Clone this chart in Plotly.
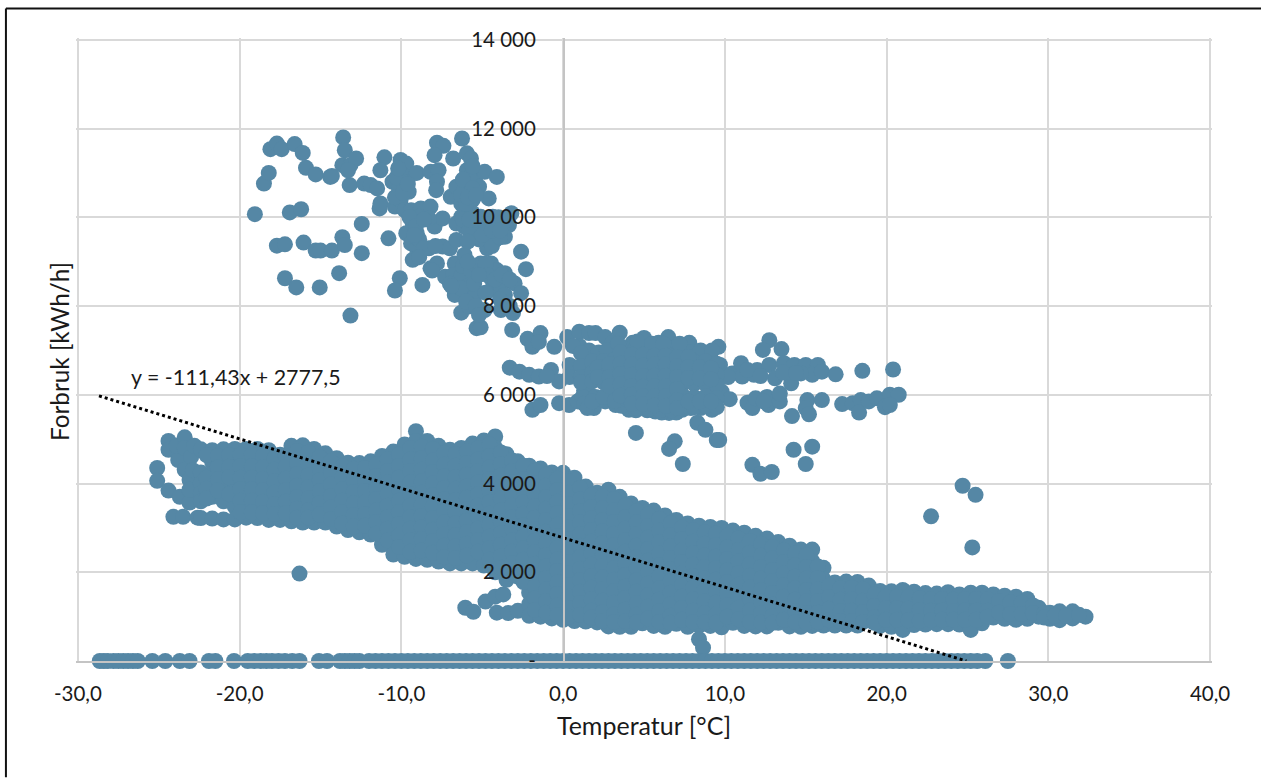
import plotly.graph_objects as go

# Values. T = temperature in deg C, values in kWh/h.
upper_left_cluster = [
(-19.06,10070),(-18.5,10760),(-18.2,11000),(-18.1,11535),(-17.7,11660),(-17.4,11535),(-16.6,11650),(-16.1,11450),
(-15.9,11115),(-15.3,10965),(-14.4,10910),(-14.3,10930),(-13.6,11800),(-13.5,11510),(-13.65,11175),(-13.15,11175),
(-12.8,11325),(-13.2,10725),(-13.3,11060),(-12.3,10760),(-11.9,10725),(-11.5,10650),(-11.05,11350),(-11.3,11060),
(-16.9,10110),(-16.2,10180),(-17.7,9360),(-17.2,9390),(-16.05,9430),(-15.3,9250),(-15.0,9250),(-14.3,9250),
(-13.65,9550),(-13.5,9375),(-12.45,9850),(-12.45,9190),(-17.2,8625),(-16.5,8420),(-15.05,8420),(-13.85,8740),
(-13.15,7785),(-10.8,9525),(-10.1,8625),(-10.4,8350),(-8.7,8475),(-11.35,10200),(-11.3,10310),(-10.4,10240),
]
upper_mid_cluster = [
(-10.05,11290),(-9.7,11210),(-10.55,10800),(-10.05,10990),(-9.55,10910),(-10.15,10650),(-9.55,10575),(-10.05,10390),
(-9.05,11000),(-10.4,10450),(-9.8,10160),(-9.4,10160),(-8.8,10200),(-8.2,10240),(-8.9,10010),(-9.3,9860),(-9.7,9640),
(-9.05,9640),(-9.4,9410),(-9.05,9300),(-9.3,9040),(-8.3,9300),(-7.95,9790),(-7.45,9975),(-8.3,9975),(-7.45,9340),
(-7.0,9300),(-6.6,9490),(-8.2,8850),(-7.8,8960),(-7.3,8660),(-6.7,8960),(-6.8,8700),(-6.1,9150),(-6.7,8250),(-6.3,8660),
(-5.45,8625),(-5.95,8440),(-5.1,8960),(-4.45,8960),(-4.1,8810),(-3.6,8740),(-3.0,8510),(-2.6,8290),(-4.45,8360),
(-3.85,8440),(-4.85,7910),(-3.85,7910),(-3.1,7840),(-6.3,7850),(-5.8,7990),(-5.35,7500),(-5.1,7520),(-3.15,7460),
(-2.6,9225),(-2.3,8830),(-7.8,11680),(-7.4,11610),(-7.95,11400),(-6.8,11325),(-6.25,11775),(-5.95,11440),(-5.7,11325),
(-8.2,11025),(-7.7,11060),(-7.8,10800),(-7.85,10610),(-6.95,10460),(-6.6,10690),(-6.1,10610),(-5.95,11060),(-5.45,10840),
(-4.85,11025),(-4.1,10910),(-5.2,10690),(-4.6,10425),(-6.3,10310),(-6.3,10010),(-5.6,10390),(-6.6,9860),(-6.1,9790),
(-5.6,9860),(-5.1,10010),(-4.35,10010),(-3.2,10090),(-3.35,9825),(-4.0,9790),(-3.6,9560),(-4.2,9490),(-4.85,9560),
(-5.45,9640),(-4.7,9300),(-5.6,10100),(-6.0,10300),(-5.3,10000),(-4.6,9800),(-5.0,9800),(-5.7,10650),(-6.3,8400),
(-5.5,8200),(-6.0,8100),(-4.4,8600),(-3.6,8250),(-3.3,8000),
(-6.2,9950),(-5.8,9700),(-5.4,9950),(-5.2,9500),(-4.8,9850),(-4.5,9650),(-4.4,9350),(-4.0,10000),(-3.7,9900),(-3.9,9550),
(-3.4,9950),(-9.5,10000),(-9.1,9800),(-8.6,9950),(-8.9,9500),(-9.9,10800),(-10.3,10900),(-9.9,10550),(-9.6,10750),
(-10.2,11100),(-5.8,10900),(-5.6,11150),(-6.2,10850),(-6.3,10500),(-5.6,10650),(-5.9,10450),(-5.4,10500),(-8.6,9300),
(-7.9,9350),(-8.1,8800),(-7.0,8500),(-6.9,8450),(-6.2,8900),(-5.7,8800),(-5.3,8900),(-5.5,8500),(-4.8,8950),(-4.7,8700),
(-4.2,8600),(-3.8,8700),(-3.3,8600),(-9.2,9600),(-8.9,9100),(-5.8,9950),(-5.0,9600),(-4.4,9700),(-3.9,9700),(-5.9,9450),
(-5.2,8700),(-5.9,9000),(-4.8,8300),(-3.9,8150),(-5.4,8000),(-5.2,7800),
]
upper_band_edges = [
(-2.2,7260),(-1.9,7080),(-1.4,7390),(-1.5,7190),(-0.55,7080),(0.25,7300),(1.0,7420),(1.6,7390),(2.0,7390),(2.6,7300),
(3.5,7400),(3.05,7170),(5.0,7280),(4.3,7170),(6.5,7300),(5.9,7170),(6.85,7120),(7.8,7170),(9.6,7080),(-3.3,6610),
(-2.7,6520),(-2.1,6450),(-1.5,6410),(-0.75,6560),(-0.25,6300),(-1.0,6420),(-1.9,5660),(-1.4,5770),(-0.25,5810),(0.37,5770),
(0.9,5850),(1.9,5700),(2.6,5850),(3.25,5770),(4.07,5660),(4.9,5770),(5.7,5620),(6.55,5590),(7.36,5660),(9.2,5700),
(3.0,7000),(3.7,7050),(4.4,7000),(5.0,7000),(5.7,6950),(6.4,7000),(7.1,6950),(7.8,6950),(8.5,6850),(9.1,6850),
(12.75,7230),(12.35,7010),(13.5,7030),(9.3,6710),(9.7,6670),(9.3,6450),(10.45,6480),(11.0,6710),(11.07,6410),(11.8,6450),
(12.0,6560),(12.75,6670),(13.1,6370),(13.65,6710),(14.3,6670),(15.0,6670),(15.75,6670),(15.4,6450),(16.0,6520),(16.85,6460),
(14.1,6260),(18.5,6540),(20.4,6570),(9.8,6070),(9.3,6000),(9.2,5660),(10.3,5900),(11.4,5820),(11.7,5700),(11.9,5920),
(12.7,5770),(12.6,5950),(13.4,5850),(13.4,6030),(14.15,5520),(15.1,5880),(15.0,5700),(15.2,5560),(16.0,5880),(17.25,5790),
(17.9,5810),(18.4,5880),(18.3,5600),(18.9,5850),(19.4,5920),(19.9,5720),(20.2,6000),(20.75,6000),(20.2,5770),(10.2,6400),
(11.4,6560),(12.2,6420),(12.4,5850),(14.7,6480),(13.6,6500),(14.4,6490),
(1.0,7100),(1.6,7000),(2.2,6950),(2.7,7000),(3.4,7150),(4.6,7200),(5.5,7150),(6.2,7150),(7.2,7150),(0.6,7100),(8.5,7000),(9.2,7000),
(1.3,6100),(1.6,6000),(1.2,5950),(2.0,5950),(2.9,6000),(1.3,5800),(3.6,5750),(4.5,5650),(5.2,5650),(6.1,5600),(7.0,5600),
(7.9,5700),(8.5,5700),(1.5,5700),
]
upper_band_mass = [
(0.4,[6670,6400]),(1.1,[6940,6650,6400,6280]),(1.8,[6750,6500,6300,5850]),(2.5,[6760,6500,6280,5950]),
(3.2,[6800,6580,6340,6100,5860]),(3.9,[6820,6600,6360,6120,5900]),(4.6,[6800,6560,6320,6080,5880,5700]),
(5.3,[6780,6540,6300,6060,5840,5680]),(6.0,[6800,6560,6320,6080,5860,5650]),(6.7,[6780,6540,6300,6060,5850,5650]),
(7.4,[6750,6500,6250,5980,5750]),(8.1,[6750,6500,6250,5950,5720]),(8.8,[6750,6480,6250,5960,5750]),
(9.5,[6700,6450,6220,5920,5720]),
(2.15,[6620,6400]),(2.85,[6680,6400,6200]),(3.55,[6950,6700,6470,6230,5980]),(4.25,[6900,6680,6450,6200,6000,5800]),
(4.95,[6900,6660,6420,6180,5970,5790]),(5.65,[6880,6680,6430,6190,5960,5760]),(6.35,[6880,6680,6430,6190,5970,5750]),
(7.05,[6850,6640,6400,6130,5880,5700]),(7.75,[6850,6620,6380,5850]),(8.45,[6620,6370,5850]),(9.15,[6600,6350,5850]),
]
mid_outliers_t = [4.5,6.9,6.55,7.4,8.3,8.8,9.5,9.65,11.7,12.2,12.9,14.25,15.4,15.0]
mid_outliers_kwh = [5140,4950,4780,4440,5370,5210,4980,4980,4420,4220,4260,4760,4830,4440]
low_outliers_t = [24.7,25.5,22.75,25.3,-16.3,8.4,8.65]
low_outliers_kwh = [3950,3745,3260,2560,1970,490,300]

left_blob = [
(-25.1,4350),(-25.1,4060),(-24.4,3840),(-23.7,3700),(-24.1,3250),(-23.5,3250),(-23.1,3570),(-24.4,4960),(-24.4,4760),
(-23.8,4530),(-23.9,4850),(-23.4,5040),(-23.4,4800),(-23.4,4310),(-23.1,4080),(-23.1,3860),(-23.0,4600),(-22.8,4850),
(-22.6,3230),(-22.9,4300),
]
sub_band = [
(-6.05,1200),(-5.55,1110),(-4.8,1340),(-4.2,1450),(-3.7,1500),(-4.1,1090),(-3.4,1080),(-2.8,1130),
]
main_band_columns = [
(-22.4,[4770,4250,4000,3780,3600,3220]),(-21.7,[4750,4480,4220,3960,3700,3210]),(-21.0,[4770,4500,4250,4020,3600,3190]),
(-20.3,[4780,4520,4260,4000,3740,3480,3190]),(-19.6,[4780,4530,4270,4010,3750,3490,3230]),(-18.9,[4780,4520,4260,4000,3740,3480,3220]),
(-18.2,[4750,4500,4240,3980,3720,3450,3180]),(-17.5,[4650,4400,4140,3880,3620,3360,3180]),(-16.8,[4850,4600,4340,4080,3820,3560,3300,3150]),
(-16.1,[4860,4620,4360,4100,3840,3580,3320,3120]),(-15.4,[4780,4520,4260,4000,3740,3480,3220,3120]),(-14.7,[4680,4420,4160,3900,3640,3380,3120]),
(-14.0,[4570,4320,4060,3800,3540,3280,3030]),(-13.3,[4470,4210,3950,3690,3430,3170,2950]),(-12.6,[4460,4200,3940,3680,3420,3160,2900]),
(-11.9,[4500,4240,3980,3720,3460,3200,2940,2850]),(-11.2,[4620,4360,4100,3840,3580,3320,3060,2800,2620]),
(-10.5,[4720,4460,4200,3940,3680,3420,3160,2900,2640,2400]),(-9.8,[4880,4620,4360,4100,3840,3580,3320,3060,2800,2540,2350]),
(-9.1,[5180,4960,4700,4440,4180,3920,3660,3400,3140,2880,2620,2300]),(-8.4,[4960,4700,4440,4180,3920,3660,3400,3140,2880,2620,2360,2280]),
(-7.7,[4850,4590,4330,4070,3810,3550,3290,3030,2770,2510,2240]),(-7.0,[4760,4500,4240,3980,3720,3460,3200,2940,2680,2420,2200]),
(-6.3,[4800,4560,4300,4040,3780,3520,3260,3000,2740,2480,2200]),(-5.6,[4900,4640,4380,4120,3860,3600,3340,3080,2820,2560,2300,2200]),
(-4.9,[4970,4700,4440,4180,3920,3660,3400,3140,2880,2620,2360,2150]),(-4.2,[5060,4800,4540,4280,4020,3760,3500,3240,2980,2720,2460,2200,2000]),
(-3.5,[4660,4400,4140,3880,3620,3360,3100,2840,2580,2320,2060,1830]),(-2.8,[4500,4240,3980,3720,3460,3200,2940,2680,2420,2160,1900]),
(-2.1,[4400,4140,3880,3620,3360,3100,2840,2580,2320,2060,1800,1540,1280,1020]),(-1.4,[4340,4080,3820,3560,3300,3040,2780,2520,2260,2000,1740,1480,1220,1000]),
(-0.7,[4250,3990,3730,3470,3210,2950,2690,2430,2170,1910,1650,1390,1130,960]),(0.0,[4240,3980,3720,3460,3200,2940,2680,2420,2160,1900,1640,1380,1120,930]),
(0.7,[4130,3870,3610,3350,3090,2830,2570,2310,2050,1790,1530,1270,1010,900]),(1.4,[3930,3670,3410,3150,2890,2630,2370,2110,1850,1590,1330,1070,890]),
(2.1,[3790,3530,3270,3010,2750,2490,2230,1970,1710,1450,1190,870]),(2.8,[3860,3600,3340,3080,2820,2560,2300,2040,1780,1520,1260,1000,780]),
(3.5,[3700,3440,3180,2920,2660,2400,2140,1880,1620,1360,1100,770]),(4.2,[3550,3290,3030,2770,2510,2250,1990,1730,1470,1210,950,770]),
(4.9,[3450,3190,2930,2670,2410,2150,1890,1630,1370,1110,850]),(5.6,[3390,3130,2870,2610,2350,2090,1830,1570,1310,1050,790]),
(6.3,[3280,3020,2760,2500,2240,1980,1720,1460,1200,940,770]),(7.0,[3180,2920,2660,2400,2140,1880,1620,1360,1100,840]),
(7.7,[3100,2840,2580,2320,2060,1800,1540,1280,1020,770]),(8.4,[3050,2790,2530,2270,2010,1750,1490,1230,970,790]),
(9.1,[3020,2760,2500,2240,1980,1720,1460,1200,940,790]),(9.8,[3000,2740,2480,2220,1960,1700,1440,1180,920,760]),
(10.5,[2940,2680,2420,2160,1900,1640,1380,1120,860]),(11.2,[2890,2630,2370,2110,1850,1590,1330,1070,790]),
(11.9,[2820,2560,2300,2040,1780,1520,1260,1000,780]),(12.6,[2760,2500,2240,1980,1720,1460,1200,940,780]),
(13.3,[2680,2420,2160,1900,1640,1380,1120,860]),(14.0,[2600,2340,2080,1820,1560,1300,1040,780]),
(14.7,[2510,2250,1990,1730,1470,1210,950,770]),(15.4,[2510,2250,1990,1730,1470,1210,950,790]),
(16.1,[2100,1840,1580,1320,1060,800]),(16.8,[1770,1510,1250,990,800]),(17.5,[1790,1530,1270,1010,800]),(18.2,[1780,1520,1260,1000,800]),
(18.9,[1700,1440,1180,920]),(19.6,[1580,1320,1060,790]),(20.3,[1570,1310,1050,770]),(21.0,[1600,1340,1080,820,700]),
(21.7,[1560,1300,1040,810]),(22.4,[1530,1270,1010,820]),(23.1,[1520,1260,1000,830]),(23.8,[1550,1290,1030,830]),
(24.5,[1500,1240,980,820]),(25.2,[1540,1280,1020,840,700]),(25.9,[1540,1280,1020,850]),(26.6,[1500,1240,980]),
(27.3,[1470,1210,950]),(28.0,[1450,1190,930]),(28.7,[1400,1160,950]),(29.4,[1200,1000]),(30.1,[1090,950]),(30.7,[1120,920]),
(31.5,[1120,960]),(32.3,[1000]),
]
main_band_between = [
(-22.05,[4640,4130,3880,3660]),(-21.35,[4620,4360,4100,3840]),(-20.65,[4640,4380,4140,3760]),(-19.95,[4650,4390,4130,3870,3610,3350]),
(-19.25,[4650,4390,4130,3870,3610,3350]),(-18.55,[4630,4370,4110,3850,3590,3330]),(-17.85,[4570,4310,4050,3790,3530,3310]),
(-17.15,[4620,4370,4110,3850,3590,3330]),(-16.45,[4730,4470,4210,3950,3690,3430,3230]),(-15.75,[4700,4440,4180,3920,3660,3400,3230]),
(-15.05,[4600,4340,4080,3820,3560,3300]),(-14.35,[4500,4240,3980,3720,3460,3200]),(-13.65,[4390,4130,3870,3610,3350,3100]),
(-12.95,[4330,4070,3810,3550,3290,3030]),(-12.25,[4350,4090,3830,3570,3310,3050]),(-11.55,[4430,4170,3910,3650,3390,3130,2870]),
(-10.85,[4540,4280,4020,3760,3500,3240,2980,2720]),(-10.15,[4650,4390,4130,3870,3610,3350,3090,2830,2570]),
(-9.45,[4800,4540,4280,4020,3760,3500,3240,2980,2720,2460]),(-8.75,[4830,4570,4310,4050,3790,3530,3270,3010,2750,2490]),
(-8.05,[4780,4520,4260,4000,3740,3480,3220,2960,2700,2440]),(-7.35,[4680,4420,4160,3900,3640,3380,3120,2860,2600,2340]),
(-6.65,[4660,4400,4140,3880,3620,3360,3100,2840,2580,2320]),(-5.95,[4720,4460,4200,3940,3680,3420,3160,2900,2640,2380]),
(-5.25,[4800,4540,4280,4020,3760,3500,3240,2980,2720,2460]),(-4.55,[4880,4620,4360,4100,3840,3580,3320,3060,2800,2540,2280]),
(-3.85,[4700,4440,4180,3920,3660,3400,3140,2880,2620,2360,2100]),(-3.15,[4520,4280,4020,3760,3500,3240,2980,2720,2460,2200,1950]),
(-2.45,[4400,4100,3840,3580,3320,3060,2800,2540,2280,2020,1780]),(-1.75,[4290,4010,3750,3490,3230,2970,2710,2450,2190,1930,1670,1410,1150]),
(-1.05,[4200,3950,3690,3430,3170,2910,2650,2390,2130,1870,1610,1350,1090]),(-0.35,[4110,3850,3590,3330,3070,2810,2550,2290,2030,1770,1510,1250,1030]),
(0.35,[4050,3790,3530,3270,3010,2750,2490,2230,1970,1710,1450,1190,1000]),(1.05,[3900,3640,3380,3120,2860,2600,2340,2080,1820,1560,1300,1040]),
(1.75,[3730,3470,3210,2950,2690,2430,2170,1910,1650,1390,1130,980]),(2.45,[3700,3440,3180,2920,2660,2400,2140,1880,1620,1360,1100,900]),
(3.15,[3650,3390,3130,2870,2610,2350,2090,1830,1570,1310,1050,880]),(3.85,[3500,3240,2980,2720,2460,2200,1940,1680,1420,1160,900]),
(4.55,[3380,3120,2860,2600,2340,2080,1820,1560,1300,1040,870]),(5.25,[3300,3040,2780,2520,2260,2000,1740,1480,1220,960]),
(5.95,[3200,2940,2680,2420,2160,1900,1640,1380,1120,880]),(6.65,[3100,2840,2580,2320,2060,1800,1540,1280,1020,860]),
(7.35,[3010,2750,2490,2230,1970,1710,1450,1190,930]),(8.05,[2950,2690,2430,2170,1910,1650,1390,1130,880]),
(8.75,[2900,2640,2380,2120,1860,1600,1340,1080,870]),(9.45,[2870,2610,2350,2090,1830,1570,1310,1050,860]),
(10.15,[2820,2560,2300,2040,1780,1520,1260,1000]),(10.85,[2760,2500,2240,1980,1720,1460,1200,940]),
(11.55,[2700,2440,2180,1920,1660,1400,1140,880]),(12.25,[2640,2380,2120,1860,1600,1340,1080,870]),
(12.95,[2570,2310,2050,1790,1530,1270,1010,860]),(13.65,[2490,2230,1970,1710,1450,1190,930]),(14.35,[2420,2160,1900,1640,1380,1120,880]),
(15.05,[2380,2120,1860,1600,1340,1080,860]),(15.75,[2130,1870,1610,1350,1090,880]),(16.45,[1700,1440,1180,920]),(17.15,[1640,1380,1120,900]),
(17.85,[1650,1390,1130,900]),(18.55,[1620,1360,1100,880]),(19.25,[1500,1240,980,860]),(19.95,[1450,1190,930]),(20.65,[1450,1190,930]),
(21.35,[1440,1180,920]),(22.05,[1410,1150,900]),(22.75,[1390,1130,920]),(23.45,[1400,1140,930]),(24.15,[1380,1120,930]),(24.85,[1400,1140,930]),
(25.55,[1400,1140,930]),(26.25,[1390,1130,1000]),(26.95,[1350,1090]),(27.65,[1320,1060]),(28.35,[1310,1060]),(29.05,[1250,1080]),
(29.75,[1080,980]),(30.4,[1020]),(31.1,[1020]),(31.9,[1040]),
]
zero_row_t = [
-28.65,-28.4,-28.15,-27.8,-27.5,-27.2,-26.9,-26.6,-26.3,-25.4,-24.6,-23.7,-23.1,-21.9,-21.5,-20.35,-19.5,-19.1,-18.7,-18.35,-18.0,-17.6,-17.2,-16.75,-16.3,
-15.1,-14.6,-13.8,-13.5,-13.2,-12.9,-12.6,
-12.0,-11.6,-11.2,-10.8,-10.4,-10.0,-9.6,-9.2,-8.8,-8.4,-8.0,-7.6,-7.2,-6.8,-6.4,-6.0,-5.6,-5.2,-4.8,-4.4,-4.0,-3.6,-3.2,-2.8,-2.4,-2.0,
-1.6,-1.2,-0.8,-0.4,0.0,0.4,0.8,1.2,1.6,2.0,2.4,2.8,3.2,3.6,4.0,4.4,4.8,5.2,5.6,6.0,6.4,6.8,7.2,7.6,8.0,8.4,8.8,9.2,9.6,10.0,10.4,10.8,
11.2,11.6,12.0,12.4,12.8,13.2,13.6,14.0,14.4,14.8,15.2,15.6,16.0,16.4,16.8,17.2,17.6,18.0,18.4,18.8,19.2,19.6,20.0,20.4,20.8,21.2,21.6,
22.0,22.4,22.8,23.2,23.6,24.0,24.4,24.8,25.2,25.6,26.1,27.5,
]
trend_t = [-28.7, 24.93]
trend_kwh = [5975, 0]
trend_label = "y = -111,43x + 2777,5"
x_ticks = [-30,-20,-10,0,10,20,30,40]
x_tick_text = ["-30,0","-20,0","-10,0","0,0","10,0","20,0","30,0","40,0"]
y_ticks = [0,2000,4000,6000,8000,10000,12000,14000]
y_tick_text = ["-","2 000","4 000","6 000","8 000","10 000","12 000","14 000"]

pairs = upper_left_cluster + upper_mid_cluster + upper_band_edges + left_blob + sub_band
temps = [p[0] for p in pairs]
kwh = [p[1] for p in pairs]
for t, vals in upper_band_mass + main_band_columns + main_band_between:
    temps += [t] * len(vals)
    kwh += vals
temps += mid_outliers_t + low_outliers_t + zero_row_t
kwh += mid_outliers_kwh + low_outliers_kwh + [0] * len(zero_row_t)

TXT = "#1a1a1a"
FONT = "Lato, Carlito, sans-serif"
fig = go.Figure()
fig.add_trace(go.Scatter(x=temps, y=kwh, mode="markers", cliponaxis=False, showlegend=False,
                         marker=dict(size=16, color="#5587a5", line=dict(width=0))))
fig.add_trace(go.Scatter(x=trend_t, y=trend_kwh, mode="lines", cliponaxis=False, showlegend=False,
                         line=dict(color="#000000", width=3, dash="3px,3px")))
L, T, PW, PH = 76.06, 37.5, 1135.88, 624.0
fig.update_layout(
    width=1261, height=778, autosize=False, paper_bgcolor="white", plot_bgcolor="white",
    margin=dict(l=L, t=T, r=1261-L-PW, b=778-T-PH, pad=0),
    font=dict(family=FONT, size=20, color=TXT), showlegend=False,
    xaxis=dict(range=[-30.12,40.12], tickvals=x_ticks, ticktext=x_tick_text, showgrid=True, gridcolor="#d9d9d9", gridwidth=2,
               zeroline=False, showline=True, linecolor="#c4c4c4", linewidth=2, ticks="", ticklabelstandoff=13,
               tickfont=dict(size=20.5, color=TXT),
               title=dict(text="Temperatur [°C]", font=dict(size=25, color=TXT), standoff=14)),
    yaxis=dict(range=[0,14040], tickvals=y_ticks, ticktext=y_tick_text, showgrid=True, gridcolor="#d9d9d9", gridwidth=2,
               zeroline=False, showline=True, linecolor="#c4c4c4", linewidth=2, ticks="", anchor="free",
               position=(564-L)/PW, ticklabelstandoff=23, tickfont=dict(size=20.5, color=TXT)),
    annotations=[
        dict(text=trend_label, x=-20.25, y=6400, xref="x", yref="y", showarrow=False, xanchor="center", yanchor="middle",
             font=dict(size=21.4, color=TXT)),
        dict(text="Forbruk [kWh/h]", x=(60-L)/PW, y=(T+PH-351)/PH, xref="paper", yref="paper", textangle=-90,
             xanchor="center", yanchor="middle", showarrow=False, font=dict(size=24.3, color=TXT)),
    ],
    shapes=[
        dict(type="line", xref="paper", yref="paper", x0=(6-L)/PW, x1=(1261-L)/PW, y0=(T+PH-8)/PH, y1=(T+PH-8)/PH,
             line=dict(color="#111111", width=2)),
        dict(type="line", xref="paper", yref="paper", x0=(6-L)/PW, x1=(6-L)/PW, y0=(T+PH-8)/PH, y1=(T+PH-778)/PH,
             line=dict(color="#111111", width=2)),
    ],
)
fig.write_html("out.html", post_script="document.body.style.margin='0';", config={"displayModeBar": False})
